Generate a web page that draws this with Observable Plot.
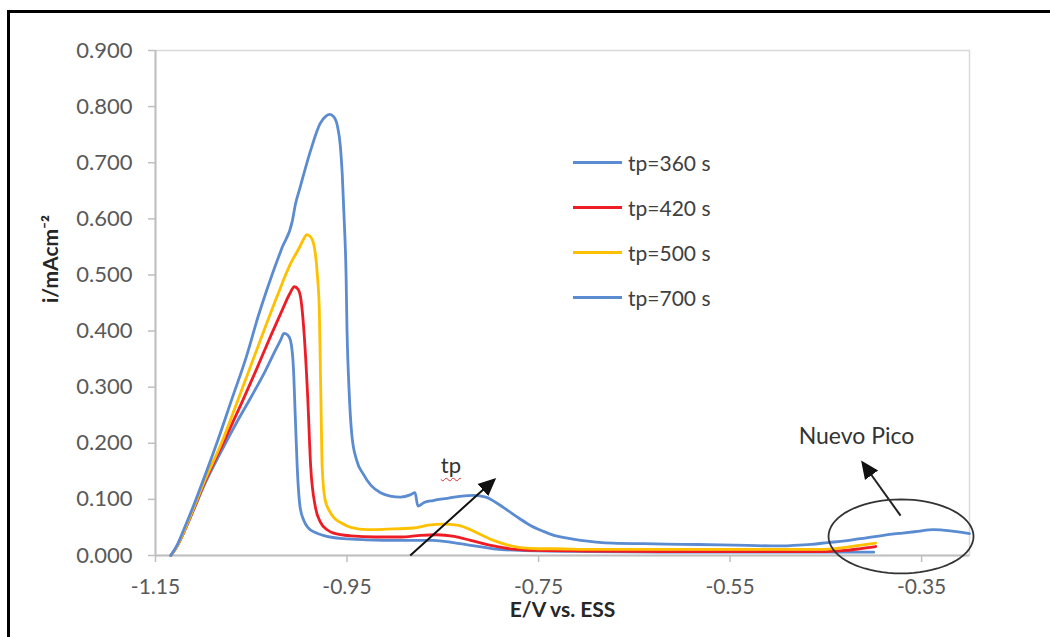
<!DOCTYPE html>
<html>
<head>
<meta charset="utf-8">
<script src="https://cdn.jsdelivr.net/npm/d3@7"></script>
<script src="https://cdn.jsdelivr.net/npm/@observablehq/plot@0.6"></script>
<style>
  body { margin: 0; background: #fff; }
  #wrap { position: relative; width: 1050px; height: 637px; overflow: hidden; background: #fff; font-family: Lato, "Open Sans", sans-serif; }
  #outer { position: absolute; left: 7px; top: 10px; width: 1200px; height: 800px; border-left: 3px solid #000; border-top: 3px solid #000; }
  #chart { position: absolute; left: 0; top: 0; }
  .leg { position: absolute; left: 573px; height: 24px; display: flex; align-items: center; font-size: 21px; color: #404040; white-space: nowrap; }
  .leg .sw { width: 49px; height: 3px; margin-right: 6px; }
  #tp { position: absolute; font-size: 22px; color: #333; text-decoration: underline wavy #e03030; text-decoration-thickness: 1px; text-underline-offset: 4px; line-height: 1; }
</style>
</head>
<body>
<div id="wrap">
  <div id="outer"></div>
  <div id="chart"></div>
</div>
<script>
// ---- data (E in V vs. ESS, i in mA cm^-2) ----
const xTicks = [-1.15, -0.95, -0.75, -0.55, -0.35];
const yTicks = [0, 0.1, 0.2, 0.3, 0.4, 0.5, 0.6, 0.7, 0.8, 0.9];

const E360 = [-1.134,-1.127,-1.120,-1.110,-1.100,-1.080,-1.065,-1.050,-1.035,-1.025,-1.019,-1.016,-1.012,-1.009,-1.006,-1.004,-1.002,-0.999,-0.995,-0.991,-0.983,-0.975,-0.954,-0.930,-0.894,-0.860,-0.839,-0.821,-0.797,-0.770,-0.700,-0.600,-0.500,-0.400];
const I360 = [0,0.018,0.043,0.082,0.122,0.190,0.238,0.283,0.330,0.365,0.385,0.396,0.393,0.383,0.335,0.246,0.157,0.086,0.062,0.050,0.041,0.036,0.030,0.028,0.027,0.027,0.023,0.018,0.012,0.009,0.007,0.006,0.006,0.006];

const E420 = [-1.134,-1.127,-1.120,-1.110,-1.100,-1.078,-1.060,-1.045,-1.030,-1.017,-1.010,-1.005,-1.001,-0.998,-0.995,-0.991,-0.988,-0.983,-0.978,-0.970,-0.964,-0.946,-0.920,-0.894,-0.873,-0.856,-0.838,-0.821,-0.797,-0.780,-0.750,-0.700,-0.600,-0.500,-0.450,-0.430,-0.415,-0.398];
const I420 = [0,0.018,0.043,0.083,0.125,0.205,0.272,0.330,0.390,0.440,0.466,0.479,0.474,0.455,0.400,0.280,0.160,0.086,0.060,0.045,0.040,0.035,0.033,0.033,0.036,0.037,0.034,0.027,0.017,0.012,0.009,0.008,0.007,0.007,0.007,0.009,0.012,0.016];

const E500 = [-1.134,-1.127,-1.120,-1.110,-1.100,-1.080,-1.060,-1.038,-1.023,-1.009,-1.000,-0.995,-0.992,-0.988,-0.984,-0.981,-0.979,-0.978,-0.977,-0.976,-0.973,-0.968,-0.964,-0.955,-0.946,-0.929,-0.908,-0.881,-0.865,-0.850,-0.835,-0.821,-0.810,-0.797,-0.783,-0.769,-0.750,-0.734,-0.700,-0.600,-0.500,-0.450,-0.432,-0.415,-0.398];
const I500 = [0,0.018,0.044,0.085,0.128,0.205,0.295,0.395,0.462,0.520,0.548,0.565,0.572,0.568,0.548,0.500,0.440,0.350,0.250,0.160,0.100,0.078,0.068,0.057,0.050,0.046,0.047,0.049,0.054,0.056,0.054,0.046,0.037,0.027,0.019,0.014,0.012,0.012,0.011,0.011,0.011,0.011,0.014,0.018,0.022];

const E700 = [-1.134,-1.127,-1.120,-1.110,-1.100,-1.085,-1.070,-1.055,-1.043,-1.030,-1.018,-1.007,-1.004,-0.999,-0.988,-0.978,-0.972,-0.968,-0.964,-0.960,-0.957,-0.955,-0.953,-0.951,-0.950,-0.948,-0.945,-0.940,-0.933,-0.925,-0.915,-0.905,-0.894,-0.884,-0.879,-0.876,-0.870,-0.860,-0.845,-0.830,-0.818,-0.805,-0.795,-0.782,-0.770,-0.758,-0.745,-0.734,-0.720,-0.706,-0.690,-0.672,-0.640,-0.600,-0.560,-0.532,-0.500,-0.484,-0.465,-0.448,-0.430,-0.414,-0.390,-0.370,-0.354,-0.338,-0.320,-0.300];
const I700 = [0,0.020,0.048,0.090,0.135,0.205,0.280,0.355,0.425,0.492,0.548,0.597,0.625,0.656,0.722,0.770,0.783,0.786,0.782,0.765,0.730,0.680,0.600,0.500,0.400,0.300,0.215,0.170,0.145,0.125,0.112,0.106,0.104,0.108,0.112,0.088,0.094,0.098,0.102,0.106,0.107,0.104,0.095,0.080,0.066,0.053,0.043,0.036,0.031,0.027,0.024,0.022,0.021,0.020,0.019,0.018,0.017,0.018,0.020,0.023,0.026,0.030,0.036,0.040,0.043,0.046,0.044,0.039];

const seriesNames = ["tp=360 s", "tp=420 s", "tp=500 s", "tp=700 s"];
const seriesColors = ["#5b8bd0", "#ee1c25", "#ffc000", "#5b8bd0"];
const seriesE = [E360, E420, E500, E700];
const seriesI = [I360, I420, I500, I700];

const xTitle = "E/V vs. ESS";
const yTitle = "i/mAcm\u207B\u00B2";

// annotations (data units)
const tpArrow = [{x1: -0.884, y1: 0.0, x2: -0.797, y2: 0.134}];
const tpLabel = {text: "tp", E: -0.841, i: 0.160};
const picoArrow = [{x1: -0.372, y1: 0.071, x2: -0.411, y2: 0.164}];
const picoLabel = [{text: "Nuevo Pico", E: -0.418, i: 0.212}];
const ellipseCenter = {E: -0.3715, i: 0.034};
const ellipseRadii = {E: 0.0757, i: 0.066};

// ---- build ----
const lines = seriesNames.map((name, k) => seriesE[k].map((e, j) => ({E: e, I: seriesI[k][j], series: name})));
const ellipse = d3.range(0, 73).map(k => {
  const t = (k / 72) * 2 * Math.PI;
  return {E: ellipseCenter.E + ellipseRadii.E * Math.cos(t), I: ellipseCenter.i + ellipseRadii.i * Math.sin(t)};
});

const FONT = "Lato, 'Open Sans', sans-serif";

const plot = Plot.plot({
  width: 1050,
  height: 637,
  marginLeft: 155,
  marginRight: 81,
  marginTop: 50,
  marginBottom: 82,
  style: {fontFamily: FONT, fontSize: "22px", color: "#595959", background: "transparent", overflow: "visible"},
  x: {domain: [-1.15, -0.30]},
  y: {domain: [0, 0.9]},
  marks: [
    Plot.frame({stroke: "#d9d9d9", strokeWidth: 1.5}),
    Plot.axisY({ticks: yTicks, tickFormat: d => d.toFixed(3), tickSize: 7, tickPadding: 16, stroke: "#bfbfbf", strokeWidth: 1.5, label: null, fontSize: 22}),
    Plot.axisX({ticks: xTicks, tickFormat: d => d.toFixed(2), tickSize: 7, tickPadding: 17, stroke: "#bfbfbf", strokeWidth: 1.5, label: null, fontSize: 21}),
    Plot.ruleX([-1.15], {stroke: "#bfbfbf", strokeWidth: 2}),
    Plot.ruleY([0], {stroke: "#bfbfbf", strokeWidth: 2}),
    ...lines.map((data, k) => Plot.line(data, {x: "E", y: "I", stroke: seriesColors[k], strokeWidth: 2.8, curve: "monotone-x"})),
    Plot.link(tpArrow, {x1: "x1", y1: "y1", x2: "x2", y2: "y2", stroke: "#111", strokeWidth: 2, className: "ann-arrow"}),
    Plot.link(picoArrow, {x1: "x1", y1: "y1", x2: "x2", y2: "y2", stroke: "#222", strokeWidth: 2, className: "ann-arrow"}),
    Plot.line(ellipse, {x: "E", y: "I", stroke: "#333", strokeWidth: 1.8, curve: "linear"}),
    Plot.text(picoLabel, {x: "E", y: "i", text: "text", fill: "#333", fontSize: 23, lineAnchor: "middle"}),
    Plot.text([xTitle], {frameAnchor: "bottom", dy: 55, text: d => d, fontWeight: "bold", fill: "#262626", fontSize: 21, lineAnchor: "middle"}),
    Plot.text([yTitle], {frameAnchor: "left", dx: -104, rotate: -90, text: d => d, fontWeight: "bold", fill: "#262626", fontSize: 21, lineAnchor: "middle"})
  ]
});

// filled arrowheads
const svgns = "http://www.w3.org/2000/svg";
const defs = document.createElementNS(svgns, "defs");
const marker = document.createElementNS(svgns, "marker");
marker.setAttribute("id", "ah");
marker.setAttribute("viewBox", "0 -5 10 10");
marker.setAttribute("refX", "8");
marker.setAttribute("refY", "0");
marker.setAttribute("markerUnits", "userSpaceOnUse");
marker.setAttribute("markerWidth", "18");
marker.setAttribute("markerHeight", "18");
marker.setAttribute("orient", "auto");
const mp = document.createElementNS(svgns, "path");
mp.setAttribute("d", "M0,-4.5L10,0L0,4.5Z");
mp.setAttribute("fill", "#111");
marker.appendChild(mp);
defs.appendChild(marker);
plot.insertBefore(defs, plot.firstChild);
plot.querySelectorAll(".ann-arrow path, g.ann-arrow path").forEach(p => p.setAttribute("marker-end", "url(#ah)"));

document.getElementById("chart").appendChild(plot);

// legend (HTML, positioned over the plot)
const wrap = document.getElementById("wrap");
const legendTop = [150, 195, 240, 285];
seriesNames.forEach((name, k) => {
  const row = document.createElement("div");
  row.className = "leg";
  row.style.top = legendTop[k] + "px";
  const sw = document.createElement("div");
  sw.className = "sw";
  sw.style.background = seriesColors[k];
  const tx = document.createElement("span");
  tx.textContent = name;
  row.appendChild(sw);
  row.appendChild(tx);
  wrap.appendChild(row);
});

// "tp" label with spell-check underline, placed through the plot scales
const xs = plot.scale("x"), ys = plot.scale("y");
const tp = document.createElement("span");
tp.id = "tp";
tp.textContent = tpLabel.text;
wrap.appendChild(tp);
const r = tp.getBoundingClientRect();
tp.style.left = (xs.apply(tpLabel.E) - r.width / 2) + "px";
tp.style.top = (ys.apply(tpLabel.i) - 11) + "px";
</script>
</body>
</html>
